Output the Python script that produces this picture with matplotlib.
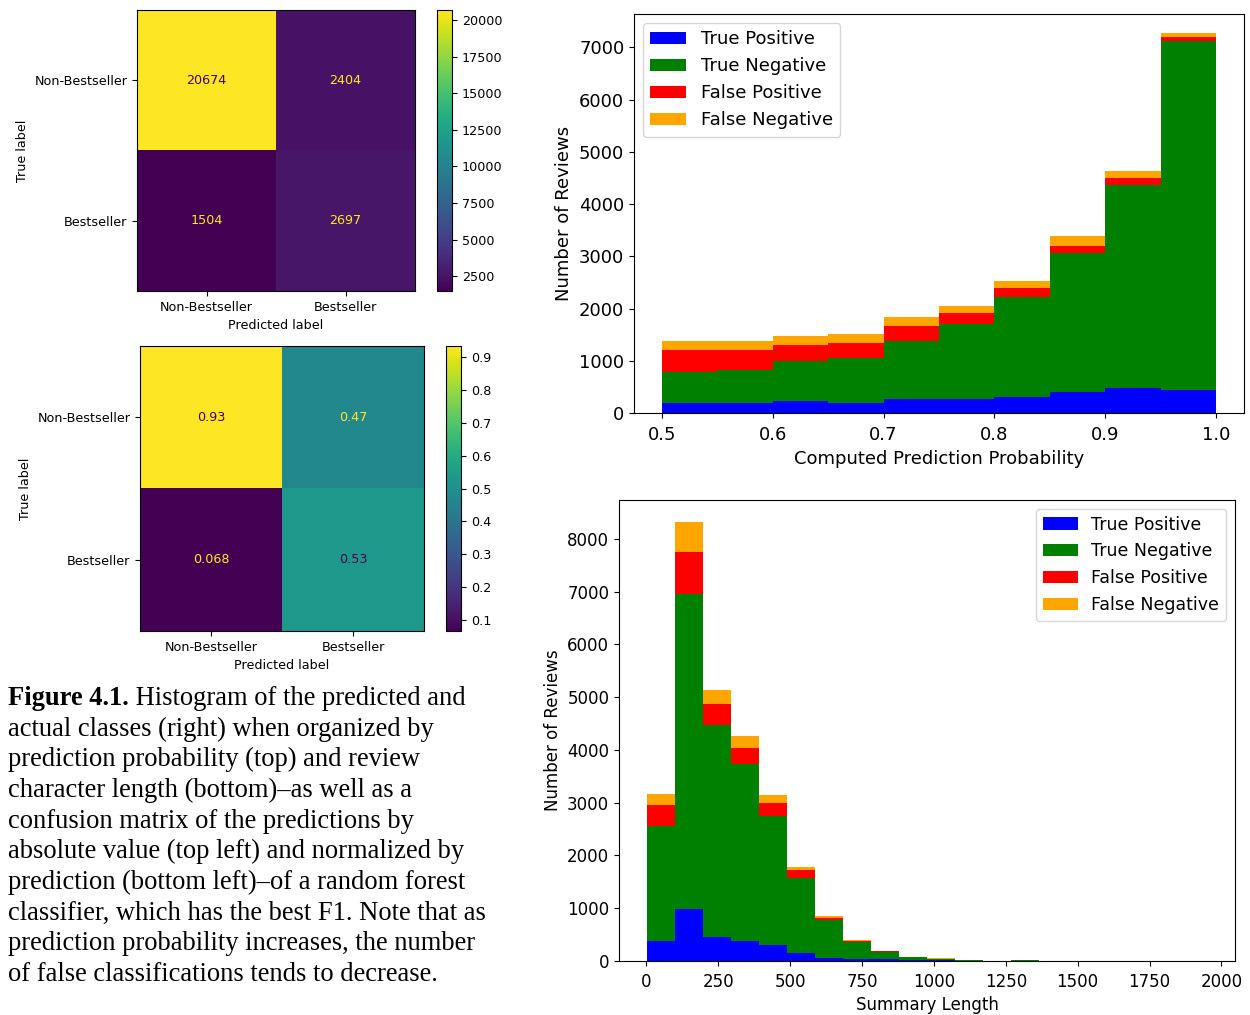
import numpy as np
import matplotlib
matplotlib.use("Agg")
import matplotlib.pyplot as plt

# Confusion matrix data
class_names = ["Non-Bestseller", "Bestseller"]
cm_counts = np.array([[20674, 2404],
                      [1504, 2697]])
cm_norm = np.array([[0.932, 0.471],
                    [0.068, 0.529]])

# Histogram by prediction probability (counts per bin)
prob_edges = [0.5, 0.55, 0.6, 0.65, 0.7, 0.75, 0.8, 0.85, 0.9, 0.95, 1.0]
prob_tp = [190, 190, 225, 195, 260, 260, 300, 395, 470, 435]
prob_tn = [595, 625, 770, 865, 1120, 1438, 1923, 2667, 3893, 6695]
prob_fp = [415, 385, 310, 278, 286, 211, 173, 141, 134, 70]
prob_fn = [175, 175, 178, 184, 173, 141, 134, 179, 141, 77]

# Histogram by summary length (counts per bin)
len_edges = np.linspace(2, 1950, 21)
len_tp = [382, 986, 458, 382, 312, 153, 51, 38, 32, 25, 12, 5, 0, 3, 1, 0, 0, 0, 0, 1]
len_tn = [2181, 5965, 4013, 3357, 2442, 1411, 726, 319, 140, 45, 18, 20, 5, 22, 3, 1, 1, 0, 0, 1]
len_fp = [394, 801, 400, 299, 248, 166, 38, 25, 19, 5, 8, 2, 0, 1, 0, 0, 0, 0, 0, 0]
len_fn = [216, 566, 261, 216, 146, 44, 45, 19, 6, 3, 13, 1, 0, 1, 0, 0, 0, 0, 0, 0]

class_labels = ["True Positive", "True Negative", "False Positive", "False Negative"]
class_colors = ["blue", "green", "red", "orange"]

caption_bold = "Figure 4.1."
caption_lines = [
    " Histogram of the predicted and",
    "actual classes (right) when organized by",
    "prediction probability (top) and review",
    "character length (bottom)\u2013as well as a",
    "confusion matrix of the predictions by",
    "absolute value (top left) and normalized by",
    "prediction (bottom left)\u2013of a random forest",
    "classifier, which has the best F1. Note that as",
    "prediction probability increases, the number",
    "of false classifications tends to decrease.",
]

W, H = 1250, 1015
fig = plt.figure(figsize=(W / 100, H / 100), dpi=100)


def px_axes(x0, y0, x1, y1):
    # pixel box (top-left origin) -> figure axes
    return fig.add_axes([x0 / W, 1 - y1 / H, (x1 - x0) / W, (y1 - y0) / H])


def confusion_plot(ax, cax, cm, fmt, ticks):
    cmap = plt.get_cmap("viridis")
    im = ax.imshow(cm, cmap=cmap, aspect="auto")
    thresh = (cm.max() + cm.min()) / 2.0
    for i in range(2):
        for j in range(2):
            color = cmap(0.0) if cm[i, j] > thresh else cmap(1.0)
            ax.text(j, i, format(cm[i, j], fmt), ha="center", va="center",
                    color=color, fontsize=9.2)
    ax.set_xticks([0, 1])
    ax.set_yticks([0, 1])
    ax.set_xticklabels(class_names, fontsize=9.2)
    ax.set_yticklabels(class_names, fontsize=9.2)
    ax.set_xlabel("Predicted label", fontsize=9.2)
    ax.set_ylabel("True label", fontsize=9.2)
    ax.set_ylim(1.5, -0.5)
    cb = fig.colorbar(im, cax=cax, ticks=ticks)
    cb.ax.tick_params(labelsize=9.2)


def stacked_legend(ax, loc, size):
    handles, labels = ax.get_legend_handles_labels()
    ax.legend(handles[::-1], labels[::-1], loc=loc, fontsize=size)


# top-left: absolute counts
ax1 = px_axes(137, 10, 415, 291)
cax1 = px_axes(437, 10, 452, 291)
confusion_plot(ax1, cax1, cm_counts, "d", np.arange(2500, 20001, 2500))

# bottom-left: normalized by prediction
ax2 = px_axes(140, 346, 424, 631)
cax2 = px_axes(446, 346, 461, 631)
confusion_plot(ax2, cax2, cm_norm, ".2g", np.arange(0.1, 0.95, 0.1))

# top-right: prediction probability histogram
ax3 = px_axes(634, 14, 1244, 413)
centers = [(prob_edges[k] + prob_edges[k + 1]) / 2 for k in range(len(prob_edges) - 1)]
ax3.hist([centers] * 4, bins=prob_edges, weights=[prob_tp, prob_tn, prob_fp, prob_fn],
         stacked=True, histtype="stepfilled", color=class_colors, label=class_labels)
ax3.set_xlabel("Computed Prediction Probability", fontsize=13)
ax3.set_ylabel("Number of Reviews", fontsize=13)
ax3.tick_params(labelsize=13)
ax3.tick_params(axis="x", pad=6)
stacked_legend(ax3, "upper left", 13)

# bottom-right: summary length histogram
ax4 = px_axes(619, 500, 1235, 961)
lcenters = (len_edges[:-1] + len_edges[1:]) / 2
ax4.hist([lcenters] * 4, bins=len_edges, weights=[len_tp, len_tn, len_fp, len_fn],
         stacked=True, histtype="stepfilled", color=class_colors, label=class_labels)
ax4.set_xticks(np.arange(0, 2001, 250))
ax4.set_xlabel("Summary Length", fontsize=12)
ax4.set_ylabel("Number of Reviews", fontsize=12)
ax4.tick_params(labelsize=12)
ax4.tick_params(axis="x", pad=5)
stacked_legend(ax4, "upper right", 12.5)

# caption text
cap_font = dict(family="Liberation Serif", fontsize=19.1, va="baseline", color="black")
first_y = 705
step = 30.67
bold = fig.text(8 / W, 1 - first_y / H, caption_bold, fontweight="bold", **cap_font)
fig.canvas.draw()
bb = bold.get_window_extent(renderer=fig.canvas.get_renderer())
fig.text(bb.x1 / W, 1 - first_y / H, caption_lines[0], **cap_font)
for k, line in enumerate(caption_lines[1:], start=1):
    fig.text(8 / W, 1 - (first_y + k * step) / H, line, **cap_font)

fig.savefig("out.png", dpi=100)
